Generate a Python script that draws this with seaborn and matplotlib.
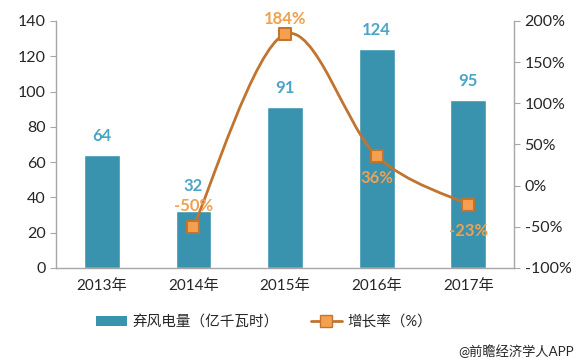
import numpy as np
import pandas as pd
import seaborn as sns
import matplotlib.pyplot as plt
from matplotlib.path import Path
from matplotlib.patches import PathPatch, Patch
from matplotlib.lines import Line2D
from matplotlib.ticker import FuncFormatter

years = ['2013年', '2014年', '2015年', '2016年', '2017年']
curtailed = [64, 32, 91, 124, 95]
growth = [None, -50, 184, 36, -23]

bar_color = '#3A93AE'
bar_label_color = '#4BA5C6'
line_color = '#C0742F'
marker_face = '#F5A04E'
pct_color = '#F0A04E'
spine_color = '#A6A6A6'

sns.set_style('white')
plt.rcParams['font.family'] = ['Lato', 'Noto Sans CJK SC', 'DejaVu Sans']

data = pd.DataFrame({'year': years, 'value': curtailed})

fig = plt.figure(figsize=(5.77, 3.62), dpi=100)
ax = fig.add_axes([0.097, 0.26, 0.794, 0.682])
sns.barplot(data=data, x='year', y='value', color=bar_color, width=0.39,
            saturation=1, ax=ax)
ax.set_xlim(-0.5, 4.5)
ax.set_ylim(0, 140)
ax.set_yticks(range(0, 141, 20))
ax.set_xlabel('')
ax.set_ylabel('')

for i, v in enumerate(curtailed):
    ax.annotate(str(v), (i, v), xytext=(0, 14 if i != 1 else 18),
                textcoords='offset points', ha='center', va='center',
                fontsize=12, fontweight='bold', color=bar_label_color)

ax2 = ax.twinx()
ax2.set_ylim(-100, 200)
ax2.set_yticks(range(-100, 201, 50))
ax2.yaxis.set_major_formatter(FuncFormatter(lambda v, p: f'{int(v)}%'))

# smoothed line through the growth points (Catmull-Rom style bezier)
xs = [i for i, g in enumerate(growth) if g is not None]
ys = [g for g in growth if g is not None]
verts = [(xs[0], ys[0])]
codes = [Path.MOVETO]
n = len(xs)
for k in range(n - 1):
    p0 = (xs[max(k - 1, 0)], ys[max(k - 1, 0)])
    p1 = (xs[k], ys[k])
    p2 = (xs[k + 1], ys[k + 1])
    p3 = (xs[min(k + 2, n - 1)], ys[min(k + 2, n - 1)])
    c1 = (p1[0] + (p2[0] - p0[0]) / 6, p1[1] + (p2[1] - p0[1]) / 6)
    c2 = (p2[0] - (p3[0] - p1[0]) / 6, p2[1] - (p3[1] - p1[1]) / 6)
    verts += [c1, c2, p2]
    codes += [Path.CURVE4] * 3
ax2.add_patch(PathPatch(Path(verts, codes), facecolor='none',
                        edgecolor=line_color, lw=2, zorder=3))
sns.scatterplot(x=xs, y=ys, marker='s', s=70, color=marker_face,
                edgecolor=line_color, linewidth=1.5, zorder=4, ax=ax2)

offsets = {1: 15, 2: 11, 3: -16, 4: -19}
for x, y in zip(xs, ys):
    ax2.annotate(f'{y}%', (x, y), xytext=(0, offsets[x]),
                 textcoords='offset points', ha='center', va='center',
                 fontsize=12, fontweight='bold', color=pct_color, zorder=5)

for a in (ax, ax2):
    for s in a.spines.values():
        s.set_visible(False)
ax.spines['left'].set_visible(True)
ax.spines['bottom'].set_visible(True)
ax2.spines['right'].set_visible(True)
for s in (ax.spines['left'], ax.spines['bottom'], ax2.spines['right']):
    s.set_color(spine_color)
    s.set_linewidth(1)

ax.set_xticks(np.arange(-0.5, 5, 1), minor=True)
ax.tick_params(axis='x', which='major', length=0, pad=8, labelsize=11, colors='#262626')
ax.tick_params(axis='x', which='minor', length=4, color=spine_color, direction='out')
ax.tick_params(axis='y', length=4, color=spine_color, direction='out', left=True,
               labelsize=11.5, labelcolor='#262626')
ax2.tick_params(axis='y', length=4, color=spine_color, direction='out', right=True,
                labelsize=11.5, labelcolor='#262626')

handles = [Patch(facecolor=bar_color, edgecolor='none'),
           Line2D([0], [0], color=line_color, lw=2, marker='s', markersize=8,
                  markerfacecolor=marker_face, markeredgecolor=line_color)]
fig.legend(handles, ['弃风电量（亿千瓦时）', '增长率（%）'], loc='center',
           bbox_to_anchor=(0.458, 0.11), ncol=2, frameon=False, fontsize=10.5,
           handlelength=2.1, handletextpad=0.4, columnspacing=2.2)

fig.text(0.995, 0.03, '@前瞻经济学人APP', ha='right', va='center', fontsize=9.5,
         color='#262626')

fig.savefig('out.png', dpi=100)
